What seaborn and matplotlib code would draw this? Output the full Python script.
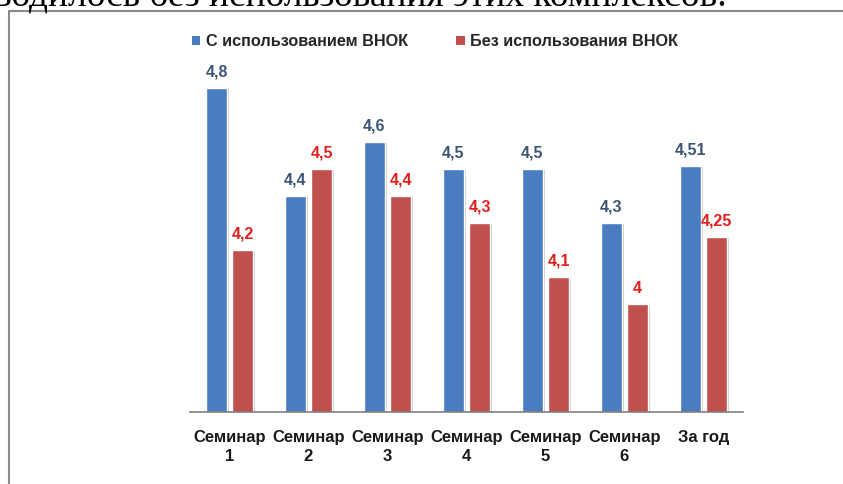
import matplotlib
matplotlib.use("Agg")
import matplotlib.pyplot as plt
import matplotlib.patheffects as pe
from matplotlib.patches import Patch
import seaborn as sns
import pandas as pd

categories = ["Семинар\n1", "Семинар\n2", "Семинар\n3", "Семинар\n4", "Семинар\n5", "Семинар\n6", "За год"]
with_vnok = [4.8, 4.4, 4.6, 4.5, 4.5, 4.3, 4.51]
without_vnok = [4.2, 4.5, 4.4, 4.3, 4.1, 4.0, 4.25]
series_names = ["С использованием ВНОК", "Без использования ВНОК"]
with_labels = ["4,8", "4,4", "4,6", "4,5", "4,5", "4,3", "4,51"]
without_labels = ["4,2", "4,5", "4,4", "4,3", "4,1", "4", "4,25"]
header_text = "водилось без использования этих комплексов."

BLUE = "#4A7DC0"
RED = "#C0504D"
BLUE_TXT = "#3D5577"
RED_TXT = "#E0201E"
FONT = ["Liberation Sans Narrow", "Liberation Sans", "DejaVu Sans"]

df = pd.DataFrame({
    "cat": categories * 2,
    "val": with_vnok + without_vnok,
    "series": [series_names[0]] * len(categories) + [series_names[1]] * len(categories),
})

sns.set_style("white")
plt.rcParams["font.family"] = FONT

fig = plt.figure(figsize=(8.43, 4.84), dpi=100)
ax = fig.add_axes([190 / 843, 1 - 412 / 484, 553 / 843, 378 / 484])

sns.barplot(data=df, x="cat", y="val", hue="series", order=categories,
            hue_order=series_names, palette=[BLUE, RED], width=0.66, gap=0.23,
            saturation=1, ax=ax, legend=False)

for p in ax.patches:
    p.set_path_effects([pe.SimplePatchShadow(offset=(1.8, -0.8), shadow_rgbFace="#c8c8c8", alpha=0.9),
                        pe.Normal()])

ax.set_ylim(3.6, 5.0)
ax.set_xlim(-0.5, len(categories) - 0.5)
ax.set_xlabel("")
ax.set_ylabel("")
ax.set_yticks([])
for s in ["top", "right", "left"]:
    ax.spines[s].set_visible(False)
ax.spines["bottom"].set_color("#808080")
ax.spines["bottom"].set_linewidth(1.2)
ax.tick_params(axis="x", length=0, pad=13)
for t in ax.get_xticklabels():
    t.set_fontsize(12)
    t.set_fontweight("bold")
    t.set_color("#1a1a1a")
    t.set_linespacing(1.3)

containers = ax.containers
ax.bar_label(containers[0], labels=with_labels, padding=6, color=BLUE_TXT,
             fontsize=11.5, fontweight="bold")
ax.bar_label(containers[1], labels=without_labels, padding=6, color=RED_TXT,
             fontsize=11.5, fontweight="bold")

handles = [Patch(facecolor=BLUE, edgecolor="none"), Patch(facecolor=RED, edgecolor="none")]
fig.legend(handles, series_names, loc="center", bbox_to_anchor=(435 / 843, 1 - 42 / 484),
           ncol=2, frameon=False, handlelength=0.5, handleheight=0.5,
           handletextpad=0.35, columnspacing=3.0,
           prop={"family": FONT, "size": 11.7, "weight": "bold"})

# frame of the screenshot
fig.add_artist(plt.Line2D([9 / 843, 9 / 843], [0, 1 - 11 / 484], transform=fig.transFigure,
                          color="#8a8a8a", lw=1.5))
fig.add_artist(plt.Line2D([9 / 843, 1], [1 - 11 / 484, 1 - 11 / 484], transform=fig.transFigure,
                          color="#8a8a8a", lw=1.5))

fig.text(-6 / 843, 1 - 7 / 484, header_text, fontsize=27, family=["Liberation Serif", "DejaVu Serif"],
         ha="left", va="baseline", color="black")

fig.savefig("out.png", dpi=100, facecolor="white")
